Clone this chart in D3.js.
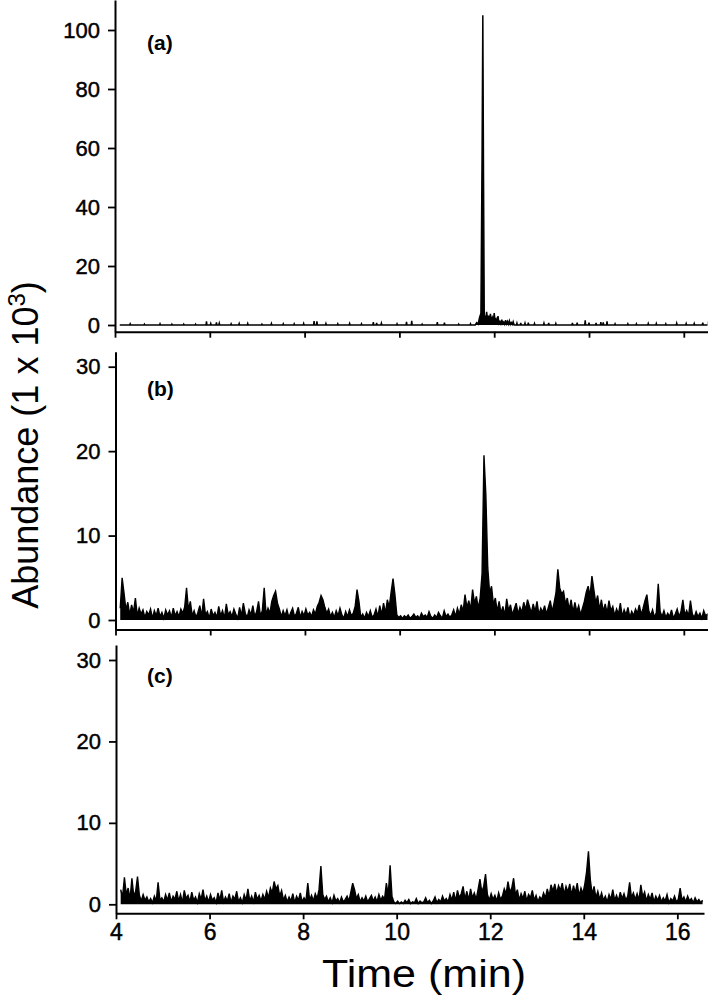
<!DOCTYPE html>
<html><head><meta charset="utf-8">
<script src="https://cdn.jsdelivr.net/npm/d3@7"></script>
<style>body{margin:0;background:#fff}svg{display:block}</style>
</head><body>
<svg id="chart" width="709" height="998"></svg>
<script>
// ---------- data ----------
const tStart = 4.10, tStep = 0.04;   // sampling of traces (b) and (c), minutes
const xTicks = [4, 6, 8, 10, 12, 14, 16];
const yTicksA = [0, 20, 40, 60, 80, 100];
const yTicksBC = [0, 10, 20, 30];
const panelLabels = ["(a)", "(b)", "(c)"];
const xTitle = "Time (min)";

const aTime = [4.10,
4.31,4.32,4.33, 4.61,4.62,4.63, 4.94,4.95,4.96, 5.19,5.20,5.21, 5.44,5.45,5.46,
5.69,5.70,5.71, 5.92,5.93,5.94, 6.01,6.02,6.03, 6.13,6.14,6.15, 6.19,6.20,6.21,
6.44,6.45,6.46, 6.61,6.62,6.63, 6.79,6.80,6.81, 7.09,7.10,7.11, 7.29,7.30,7.31,
7.54,7.55,7.56, 7.77,7.78,7.79, 7.97,7.98,7.99, 8.19,8.20,8.21, 8.25,8.26,8.27,
8.44,8.45,8.46, 8.69,8.70,8.71, 8.94,8.95,8.96, 9.19,9.20,9.21, 9.44,9.45,9.46,
9.51,9.52,9.53, 9.61,9.62,9.63, 9.94,9.95,9.96, 10.14,10.15,10.16, 10.25,10.26,10.27,
10.47,10.48,10.49, 10.79,10.80,10.81, 10.94,10.95,10.96, 11.24,11.25,11.26, 11.49,11.50,11.51,
11.60,11.63,11.66,11.69,11.72,11.745,11.76,11.775,11.79,11.82,
11.84,11.86,11.88,11.90,11.92,11.94,11.96,11.98,12.00,12.02,
12.04,12.06,12.08,12.10,12.12,12.14,12.16,12.18,12.20,12.22,
12.24,12.26,12.28,12.30,12.32,12.34,12.36,12.38,12.40,12.42,
12.47,12.48,12.49, 12.55,12.56,12.57, 12.64,12.65,12.66, 12.71,12.72,12.73, 12.84,12.85,12.86,
13.04,13.05,13.06, 13.14,13.15,13.16, 13.29,13.30,13.31, 13.64,13.65,13.66, 13.74,13.75,13.76,
13.91,13.92,13.93, 13.99,14.00,14.01, 14.14,14.15,14.16, 14.24,14.25,14.26, 14.29,14.30,14.31,
14.37,14.38,14.39, 14.54,14.55,14.56, 14.81,14.82,14.83, 14.99,15.00,15.01, 15.24,15.25,15.26,
15.41,15.42,15.43, 15.61,15.62,15.63, 15.84,15.85,15.86, 16.04,16.05,16.06, 16.21,16.22,16.23,
16.39,16.40,16.41, 16.51,16.52,16.53,
16.55];

const aAbund = [0,
0,0.4,0, 0,0.3,0, 0,0.4,0, 0,0.3,0, 0,0.3,0,
0,0.3,0, 0,1.2,0, 0,0.5,0, 0,0.9,0, 0,0.6,0,
0,0.4,0, 0,0.5,0, 0,0.5,0, 0,0.3,0, 0,0.5,0,
0,0.4,0, 0,0.4,0, 0,0.5,0, 0,1.3,0, 0,1.2,0,
0,0.5,0, 0,0.4,0, 0,0.5,0, 0,0.4,0, 0,1.0,0,
0,0.7,0, 0,0.6,0, 0,0.4,0, 0,1.1,0, 0,1.4,0,
0,0.3,0, 0,1.0,0, 0,0.8,0, 0,0.3,0, 0,0.4,0,
0,0.8,0.3,2.5,4.0,60,105,50,3.5,1.5,
4.5,1.8,3.2,1.2,3.8,1.5,2.5,1.0,4.0,1.2,
2.0,0.8,3.0,0.6,1.2,0.4,1.8,0.5,1.0,0.3,
1.6,0.4,1.2,0.3,1.4,0.2,0.8,0.2,1.1,0,
0,0.6,0, 0,0.7,0, 0,0.6,0, 0,0.8,0, 0,0.5,0,
0,0.6,0, 0,0.7,0, 0,0.5,0, 0,0.7,0, 0,0.8,0,
0,1.6,0, 0,0.8,0, 0,0.7,0, 0,1.0,0, 0,0.9,0,
0,1.2,0, 0,0.4,0, 0,0.4,0, 0,0.4,0, 0,0.5,0,
0,0.5,0, 0,0.4,0, 0,0.6,0, 0,0.5,0, 0,0.5,0,
0,0.8,0, 0,1.2,0,
0];

const bAbund = [
1.4,5.0,3.2,1.2,2.1,0.6,1.8,0.9,2.6,0.5,1.4,0.7,1.2,0.3,1.0,0.6,1.3,0.2,1.1,0.5,1.4,0.4,0.9,0.2,1.2,
0.6,1.1,0.3,1.4,0.5,1.0,0.4,1.3,0.8,1.5,3.8,1.2,2.2,0.5,1.1,0.3,0.9,1.7,0.4,2.5,0.6,1.0,0.2,1.3,0.5,
0.9,0.3,1.6,0.5,1.1,0.2,1.9,0.6,1.0,0.4,1.3,0.7,0.2,1.5,0.5,2.0,0.8,0.3,1.2,0.6,1.7,0.4,1.0,2.2,0.5,
1.1,3.8,0.6,1.4,0.8,2.2,2.9,3.4,2.0,1.3,0.4,1.1,0.5,1.2,0.3,0.9,1.4,0.4,0.8,1.5,0.3,1.0,0.5,1.3,0.6,
0.9,0.4,1.2,0.7,1.6,2.1,2.9,2.4,1.5,0.8,1.3,0.4,0.9,0.3,1.1,0.5,1.4,0.6,0.2,1.0,0.4,1.2,0.5,0.8,1.6,
3.6,2.2,0.3,0.7,0.2,0.9,0.4,1.1,0.3,0.6,1.3,0.4,1.7,0.6,2.0,0.8,2.4,1.5,3.3,4.9,3.0,0.6,0.3,0.5,0.2,
0.5,0.3,0.6,0.2,0.4,0.7,0.3,0.5,0.2,0.8,0.4,0.6,0.3,1.0,0.4,0.2,0.6,0.3,0.9,0.5,0.2,1.1,0.4,0.7,0.3,
0.6,1.2,0.4,1.4,0.7,1.8,1.0,3.0,1.5,2.3,1.2,3.6,2.0,2.8,1.4,2.6,5.5,19.5,14.8,6.2,3.2,4.0,1.8,2.6,1.0,
2.2,0.8,1.6,0.5,2.5,1.1,1.8,0.6,1.3,2.0,0.7,1.5,0.9,2.1,1.2,2.4,1.6,0.8,1.9,1.0,2.2,0.6,1.4,0.9,1.7,
0.7,1.5,2.3,1.0,2.0,3.2,6.0,3.8,3.1,3.4,1.9,2.6,1.2,2.4,0.9,2.1,1.0,1.7,0.6,1.4,2.2,3.3,4.0,2.8,5.2,
3.6,2.0,2.9,1.2,2.4,1.0,1.9,0.8,2.3,1.1,1.6,0.5,1.3,0.7,2.0,0.4,1.2,0.6,1.5,0.3,1.0,0.5,1.3,0.8,1.8,
0.6,1.4,2.3,3.0,1.1,0.5,1.2,0.3,0.9,4.3,1.0,0.4,1.1,0.3,0.8,0.4,1.2,0.2,0.7,1.3,0.4,1.0,2.4,0.6,1.1,
0.5,2.3,0.7,0.3,1.0,0.4,0.8,0.2,1.1,0.5,0.7,0.3];

const cAbund = [
1.8,0.9,3.3,1.2,2.0,0.6,3.2,1.0,1.6,3.4,1.1,0.4,1.2,0.5,0.9,0.3,0.7,0.2,1.0,0.4,2.7,0.5,0.8,0.3,1.2,
0.5,1.4,0.3,1.0,0.6,1.6,0.4,1.2,0.2,1.7,0.7,1.1,0.3,1.5,0.5,0.9,0.2,1.3,0.6,1.8,0.4,1.0,0.3,1.2,0.5,
0.8,0.2,1.4,0.5,1.7,0.3,0.9,0.4,1.3,0.2,1.0,0.6,1.6,0.3,0.8,0.2,1.2,0.5,1.9,0.4,1.0,0.3,1.5,0.6,1.1,
0.4,1.2,0.6,1.6,0.8,2.0,1.4,2.8,1.9,2.3,1.0,1.7,0.5,1.1,0.3,0.9,0.4,1.3,0.2,1.0,0.5,1.4,0.3,0.8,0.4,
2.6,0.5,1.1,0.4,1.3,0.7,1.8,4.7,1.2,0.6,1.0,0.3,0.8,0.2,1.1,0.4,0.7,0.2,0.9,0.3,0.6,1.0,0.4,1.5,2.6,
1.8,0.7,1.2,0.3,0.8,0.4,1.0,0.3,0.7,1.1,0.4,0.9,0.3,1.2,0.5,1.0,0.6,2.6,1.1,4.8,1.0,0.3,0.1,0.4,0.1,
0.3,0.1,0.5,0.2,0.6,0.1,0.3,0.2,0.7,0.1,0.4,0.2,0.3,0.8,0.2,0.5,0.1,0.4,0.9,0.2,0.6,0.3,1.0,0.4,0.7,
0.3,1.2,0.5,1.5,0.4,1.7,0.8,1.3,2.2,0.6,1.6,0.5,1.9,0.8,1.4,0.6,1.8,3.1,1.5,2.2,3.7,1.2,0.5,1.3,0.6,
1.1,0.4,1.4,0.6,1.0,1.9,1.3,2.8,1.5,2.0,3.2,1.1,1.8,0.5,1.3,0.7,1.6,0.4,1.2,0.8,1.7,0.5,1.1,0.3,0.9,
0.6,1.4,0.8,1.9,1.0,2.4,1.6,2.5,1.3,2.3,1.7,2.6,1.2,2.2,1.5,2.5,1.1,2.3,1.4,2.6,1.0,2.0,1.3,2.4,4.0,
6.5,3.0,1.2,2.2,0.8,1.6,0.6,1.4,0.5,1.0,0.3,1.2,0.6,1.8,0.5,1.1,0.4,1.5,0.7,1.3,0.5,1.0,2.7,0.8,1.4,
0.6,1.3,0.5,2.4,0.9,1.5,0.4,1.2,0.6,1.4,0.3,1.0,0.5,1.1,0.3,0.8,0.4,1.2,0.2,0.7,0.4,1.0,0.3,0.6,2.0,
0.5,0.9,0.3,1.0,0.4,0.7,0.2,0.8,0.3,0.6,0.2,0.5];

// ---------- layout ----------
const FONT = "'Liberation Sans', Arial, Helvetica, sans-serif";
const svg = d3.select("#chart");

const seriesA = d3.zip(aTime, aAbund).map(([t, v]) => ({t, v}));
const seriesB = bAbund.map((v, i) => ({t: tStart + i * tStep, v}));
const seriesC = cAbund.map((v, i) => ({t: tStart + i * tStep, v}));

const panels = [
  {data: seriesA, label: panelLabels[0], ticks: yTicksA, refLo: 0, refHi: 100,
   yLo: 325, yHi: 30, top: 0, bottom: 331.7, xL: 115, xR: 707.5, xMax: 16.5,
   labelY: 50, showX: false, sw: 1.5},
  {data: seriesB, label: panelLabels[1], ticks: yTicksBC, refLo: 0, refHi: 30,
   yLo: 620, yHi: 366.7, top: 351.7, bottom: 629.5, xL: 115.5, xR: 707.5, xMax: 16.5,
   labelY: 396, showX: false, sw: 1.4},
  {data: seriesC, label: panelLabels[2], ticks: yTicksBC, refLo: 0, refHi: 30,
   yLo: 904.3, yHi: 660, top: 645, bottom: 913.3, xL: 116, xR: 704, xMax: 16.57,
   labelY: 683, showX: true, sw: 1.4}
];

panels.forEach((p, k) => {
  const x = d3.scaleLinear().domain([4, p.xMax]).range([p.xL, p.xR]);
  const y0 = d3.scaleLinear().domain([p.refLo, p.refHi]).range([p.yLo, p.yHi]);
  const y = d3.scaleLinear().domain([y0.invert(p.bottom), y0.invert(p.top)]).range([p.bottom, p.top]);

  const g = svg.append("g");

  svg.append("clipPath").attr("id", "clip" + k)
    .append("rect").attr("x", p.xL).attr("y", p.top)
    .attr("width", p.xR - p.xL).attr("height", p.bottom - p.top);

  // dense trace: filled down to zero so it reads like the dense original signal
  g.append("path")
    .datum(p.data)
    .attr("clip-path", `url(#clip${k})`)
    .attr("fill", "#000")
    .attr("stroke", "none")
    .attr("d", d3.area().x(d => x(d.t)).y0(y(0)).y1(d => y(d.v)));

  g.append("path")
    .datum(p.data)
    .attr("clip-path", `url(#clip${k})`)
    .attr("fill", "none")
    .attr("stroke", "#000")
    .attr("stroke-width", p.sw)
    .attr("stroke-linejoin", "miter")
    .attr("d", d3.line().x(d => x(d.t)).y(d => y(d.v)));

  // y axis
  const ya = g.append("g").attr("transform", `translate(${p.xL},0)`)
    .call(d3.axisLeft(y).tickValues(p.ticks).tickSize(7).tickSizeOuter(0).tickPadding(8));
  ya.selectAll("text").attr("font-family", FONT).attr("font-size", 22).attr("fill", "#000")
    .attr("stroke", "#000").attr("stroke-width", 0.45);

  // x axis
  const xa = g.append("g").attr("transform", `translate(0,${p.bottom})`)
    .call(d3.axisBottom(x).tickValues(xTicks).tickSize(6).tickSizeOuter(0).tickPadding(4)
      .tickFormat(p.showX ? d3.format("d") : () => ""));
  xa.selectAll("text").attr("font-family", FONT).attr("font-size", 23).attr("fill", "#000")
    .attr("stroke", "#000").attr("stroke-width", 0.45);

  g.selectAll(".domain").attr("stroke", "#000").attr("stroke-width", 2);
  g.selectAll(".tick line").attr("stroke", "#000").attr("stroke-width", 1.8);

  g.append("text").attr("x", 147).attr("y", p.labelY)
    .attr("font-family", FONT).attr("font-weight", "bold").attr("font-size", 21)
    .text(p.label);
});

// axis titles
svg.append("text").attr("x", 424).attr("y", 987).attr("text-anchor", "middle")
  .attr("font-family", FONT).attr("font-size", 39)
  .attr("textLength", 204).attr("lengthAdjust", "spacingAndGlyphs")
  .text(xTitle);

const yt = svg.append("text")
  .attr("transform", "translate(38,445) rotate(-90)")
  .attr("text-anchor", "middle")
  .attr("font-family", FONT).attr("font-size", 36);
yt.append("tspan").text("Abundance (1 x 10");
yt.append("tspan").attr("font-size", 24).attr("dy", -13).text("3");
yt.append("tspan").attr("dy", 13).text(")");
</script>
</body></html>
